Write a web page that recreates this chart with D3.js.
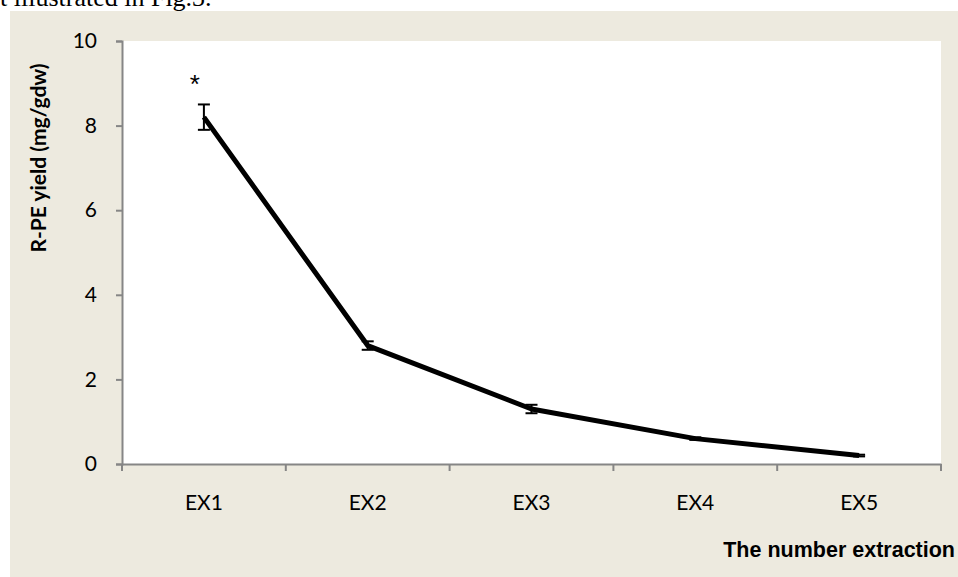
<!DOCTYPE html>
<html>
<head>
<meta charset="utf-8">
<script src="https://cdn.jsdelivr.net/npm/d3@7.9.0/dist/d3.min.js"></script>
<style>
  html, body { margin: 0; padding: 0; background: #fff; }
  svg { display: block; }
</style>
</head>
<body>
<svg id="chart" width="958" height="577"></svg>
<script>
const categories = ['EX1', 'EX2', 'EX3', 'EX4', 'EX5'];
const yieldValues = [8.2, 2.8, 1.3, 0.6, 0.2];
const yieldErrors = [0.3, 0.1, 0.1, 0.03, 0.02];
const yTicks = [0, 2, 4, 6, 8, 10];

const svg = d3.select('#chart');
const margin = { left: 122, top: 41, right: 17, bottom: 113 };
const width = 958;
const height = 577;

// page text above the figure, cut off at the top
svg.append('text')
  .attr('x', 0)
  .attr('y', 6)
  .attr('font-family', 'Liberation Serif, serif')
  .attr('font-size', 26)
  .attr('fill', '#000')
  .text('t illustrated in Fig.3.');

// figure background
svg.append('rect')
  .attr('x', 10).attr('y', 11)
  .attr('width', width - 10).attr('height', height - 11)
  .attr('fill', '#edeadf');

const x = d3.scaleBand()
  .domain(categories)
  .range([margin.left, width - margin.right]);

const y = d3.scaleLinear()
  .domain([0, 10])
  .range([height - margin.bottom, margin.top]);

svg.append('rect')
  .attr('x', margin.left)
  .attr('y', margin.top)
  .attr('width', width - margin.right - margin.left)
  .attr('height', height - margin.bottom - margin.top)
  .attr('fill', '#fff');

const axisColor = '#868686';
const tickFont = 'Lato, "Open Sans", sans-serif';

// y axis
const yAxis = svg.append('g')
  .attr('transform', `translate(${margin.left},0)`)
  .call(d3.axisLeft(y).tickValues(yTicks).tickSize(6).tickPadding(19));
yAxis.select('.domain').attr('stroke', axisColor).attr('stroke-width', 2);
yAxis.selectAll('.tick line').attr('stroke', axisColor).attr('stroke-width', 2);
yAxis.selectAll('.tick text')
  .attr('font-family', tickFont).attr('font-size', 21).attr('fill', '#000');

// x axis with boundary ticks
const xAxis = svg.append('g')
  .attr('transform', `translate(0,${y(0)})`)
  .call(d3.axisBottom(x).tickSize(0).tickPadding(31));
xAxis.select('.domain').attr('stroke', axisColor).attr('stroke-width', 2);
xAxis.selectAll('.tick text')
  .attr('font-family', tickFont).attr('font-size', 21).attr('fill', '#000');

const bounds = categories.map(c => x(c)).concat([x(categories[categories.length - 1]) + x.bandwidth()]);
xAxis.selectAll('line.bound')
  .data(bounds)
  .join('line')
  .attr('class', 'bound')
  .attr('x1', d => d).attr('x2', d => d)
  .attr('y1', 0).attr('y2', 7)
  .attr('stroke', axisColor).attr('stroke-width', 2);

const cx = c => x(c) + x.bandwidth() / 2;

// error bars
const err = svg.append('g').attr('stroke', '#000').attr('stroke-width', 2);
categories.forEach((c, i) => {
  const hi = y(yieldValues[i] + yieldErrors[i]);
  const lo = y(yieldValues[i] - yieldErrors[i]);
  err.append('line').attr('x1', cx(c)).attr('x2', cx(c)).attr('y1', hi).attr('y2', lo);
  err.append('line').attr('x1', cx(c) - 6).attr('x2', cx(c) + 6).attr('y1', hi).attr('y2', hi);
  err.append('line').attr('x1', cx(c) - 6).attr('x2', cx(c) + 6).attr('y1', lo).attr('y2', lo);
});

// line
const line = d3.line()
  .x((d, i) => cx(categories[i]))
  .y(d => y(d));

svg.append('path')
  .datum(yieldValues)
  .attr('d', line)
  .attr('fill', 'none')
  .attr('stroke', '#000')
  .attr('stroke-width', 5)
  .attr('stroke-linejoin', 'round');

// significance marker
svg.append('text')
  .attr('x', cx(categories[0]) - 9)
  .attr('y', y(yieldValues[0] + yieldErrors[0]) - 11)
  .attr('text-anchor', 'middle')
  .attr('font-family', 'Liberation Sans, Arial, sans-serif')
  .attr('font-size', 26)
  .text('*');

// axis titles
svg.append('text')
  .attr('transform', 'translate(46,158) rotate(-90)')
  .attr('text-anchor', 'middle')
  .attr('font-family', tickFont)
  .attr('font-weight', 'bold')
  .attr('font-size', 21)
  .text('R-PE yield (mg/gdw)');

svg.append('text')
  .attr('x', 955)
  .attr('y', 557)
  .attr('text-anchor', 'end')
  .attr('font-family', 'Liberation Sans, Arial, sans-serif')
  .attr('font-weight', 'bold')
  .attr('font-size', 21.5)
  .text('The number extraction');
</script>
</body>
</html>
